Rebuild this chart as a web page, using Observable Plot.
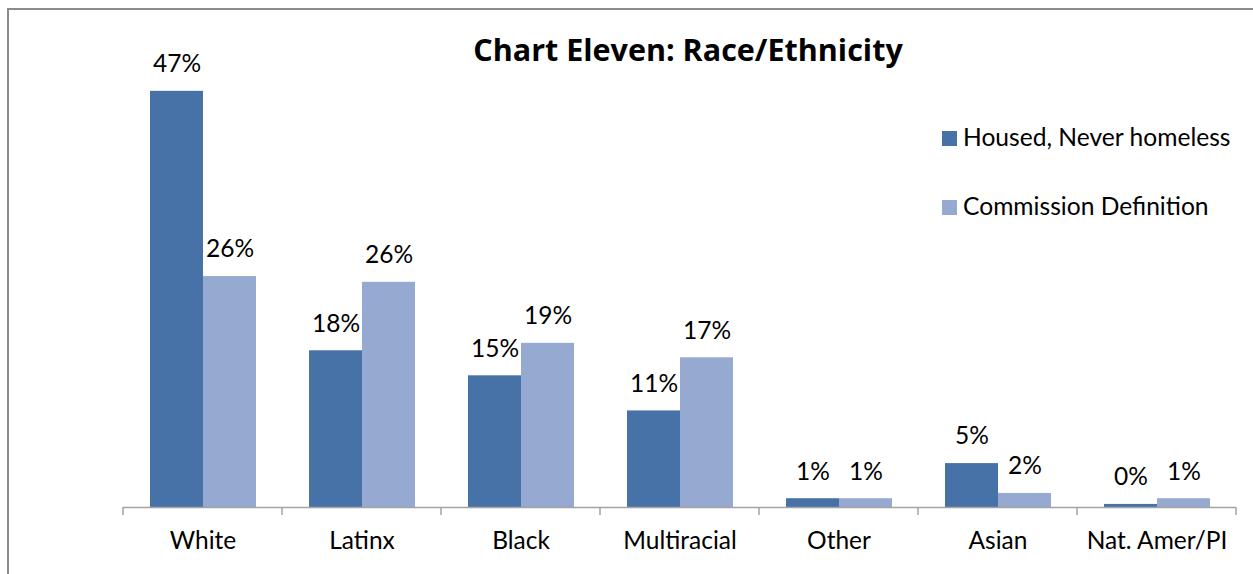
<!DOCTYPE html>
<html>
<head>
<meta charset="utf-8">
<script src="https://cdn.jsdelivr.net/npm/d3@7"></script>
<script src="https://cdn.jsdelivr.net/npm/@observablehq/plot@0.6"></script>
<style>
  body { margin: 0; background: #fff; }
  #wrap { position: relative; width: 1253px; height: 574px; overflow: hidden; font-family: Lato, sans-serif; }
  #frame { position: absolute; left: 7px; top: 8px; width: 1400px; height: 800px; border: 2px solid #8c8c8c; box-sizing: border-box; }
  #wrap svg { position: absolute; left: 0; top: 0; }
</style>
</head>
<body>
<div id="wrap"><div id="frame"></div></div>
<script>
const title = "Chart Eleven: Race/Ethnicity";
const categories = ["White", "Latinx", "Black", "Multiracial", "Other", "Asian", "Nat. Amer/PI"];
const series = ["Housed, Never homeless", "Commission Definition"];
const housed = [47.4, 17.85, 15.0, 11.0, 1.0, 5.0, 0.35];
const commission = [26.3, 25.65, 18.7, 17.05, 1.0, 1.6, 1.0];
const housedLabels = ["47%", "18%", "15%", "11%", "1%", "5%", "0%"];
const commissionLabels = ["26%", "26%", "19%", "17%", "1%", "2%", "1%"];
const colors = ["#4672a7", "#95a9d1"];

const rows = categories.flatMap((c, i) => [
  {category: c, series: series[0], value: housed[i], label: housedLabels[i]},
  {category: c, series: series[1], value: commission[i], label: commissionLabels[i]}
]);

const plot = Plot.plot({
  width: 1253,
  height: 574,
  marginLeft: 122,
  marginRight: 16,
  marginTop: 68,
  marginBottom: 67,
  style: {fontFamily: "Lato, sans-serif", fontSize: "24.5px", color: "#000", background: "transparent", overflow: "visible"},
  facet: {data: rows, x: "category"},
  fx: {domain: categories, padding: 0, label: null, axis: "bottom", tickSize: 0, tickPadding: 24.5},
  x: {domain: series, paddingInner: 0, paddingOuter: 0.5, axis: null},
  y: {domain: [0, 50], axis: null},
  color: {domain: series, range: colors},
  marks: [
    Plot.barY(rows, {x: "series", y: "value", fill: "series"}),
    Plot.text(rows, {x: "series", y: "value", text: "label", dy: -27, fontSize: 24.5, fill: "#000"}),
    Plot.ruleY([0], {stroke: "#a3a3a3", strokeWidth: 1.5})
  ]
});

document.getElementById("wrap").appendChild(plot);

const svg = d3.select(plot);
const fx = plot.scale("fx");
const ys = plot.scale("y");
const col = plot.scale("color");
const step = fx.bandwidth ?? fx.step;
const y0 = ys.apply(0);
const bounds = categories.map(c => fx.apply(c)).concat([fx.apply(categories[categories.length - 1]) + step]);

svg.append("g")
  .attr("stroke", "#a3a3a3")
  .attr("stroke-width", 1.5)
  .selectAll("line")
  .data(bounds)
  .join("line")
  .attr("x1", d => d).attr("x2", d => d)
  .attr("y1", y0).attr("y2", y0 + 8);

svg.append("text")
  .attr("x", 688).attr("y", 61)
  .attr("text-anchor", "middle")
  .attr("font-family", "'Open Sans', sans-serif")
  .attr("font-weight", "bold")
  .attr("font-size", 30.5)
  .attr("fill", "#000")
  .text(title);

const lg = svg.append("g").attr("text-anchor", "start");
series.forEach((s, i) => {
  lg.append("rect")
    .attr("x", 942).attr("y", 131 + i * 69)
    .attr("width", 15).attr("height", 15)
    .attr("fill", col.apply(s));
  lg.append("text")
    .attr("x", 963).attr("y", 146 + i * 69)
    .attr("text-anchor", "start")
    .attr("font-size", 24.6)
    .attr("fill", "#000")
    .text(s);
});
</script>
</body>
</html>
